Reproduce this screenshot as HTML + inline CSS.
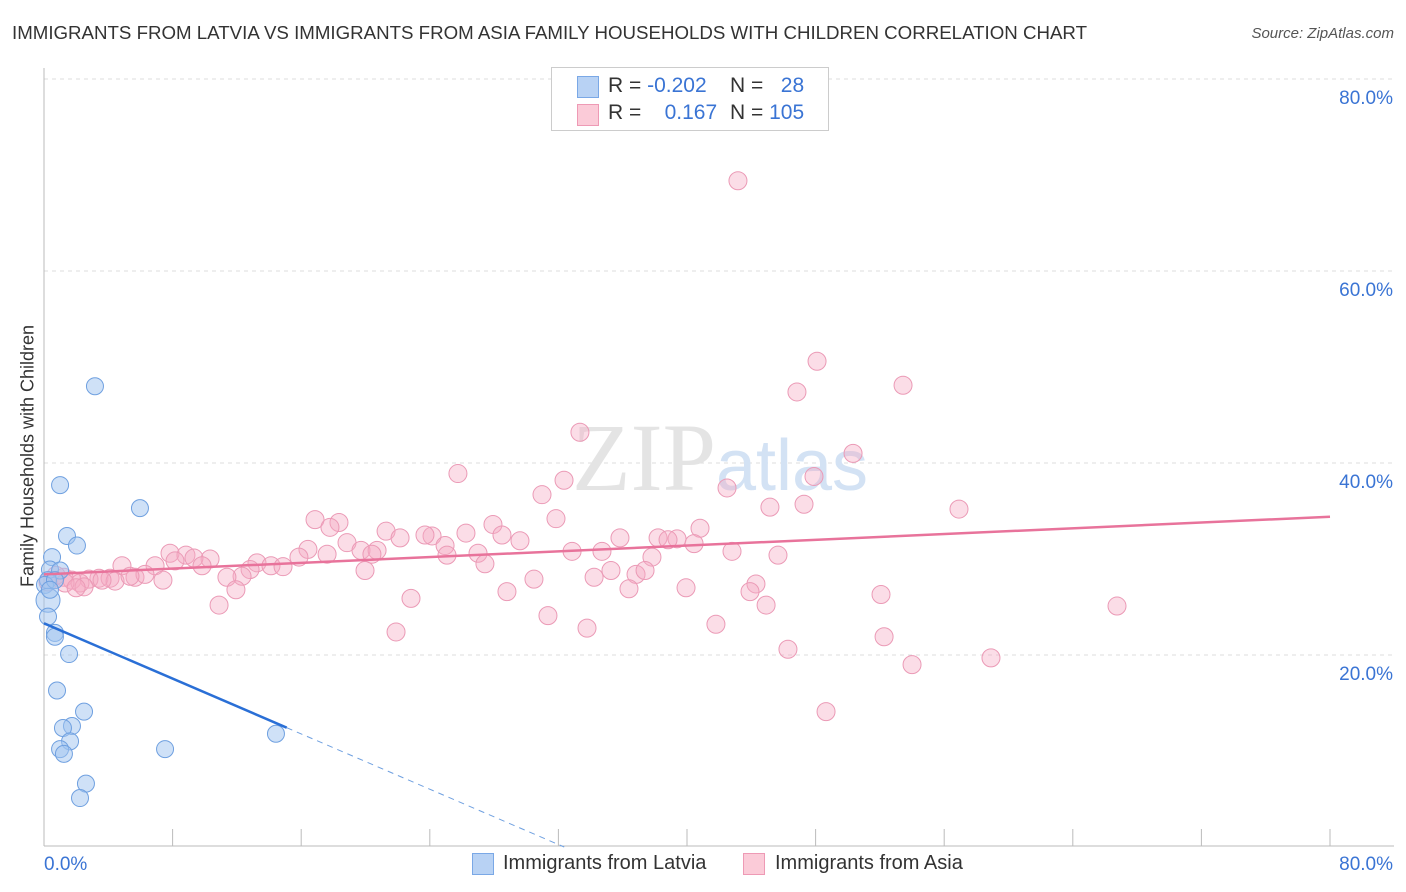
<!DOCTYPE html>
<html><head><meta charset="utf-8"><style>
body{margin:0;background:#fff;font-family:"Liberation Sans",sans-serif;}
#wrap{position:relative;width:1406px;height:892px;overflow:hidden;}
.t{position:absolute;white-space:nowrap;}
</style></head><body>
<div id="wrap">
<div class="t" style="left:12px;top:22px;font-size:18.7px;color:#333;">IMMIGRANTS FROM LATVIA VS IMMIGRANTS FROM ASIA FAMILY HOUSEHOLDS WITH CHILDREN CORRELATION CHART</div>
<div class="t" style="right:12px;top:25px;font-size:15px;color:#555;font-style:italic;">Source: ZipAtlas.com</div>
<div class="t" style="left:28px;top:456px;font-size:18px;color:#333;transform:translate(-50%,-50%) rotate(-90deg);">Family Households with Children</div>
<svg id="plot" width="1406" height="892" style="position:absolute;left:0;top:0"></svg>
<div style="position:absolute;left:551px;top:67px;width:276px;height:62px;border:1px solid #ccc;background:#fff;font-size:21px;">
 <div style="position:absolute;left:25px;top:8px;width:20px;height:20px;background:#b8d2f4;border:1px solid #7aa8e6;"></div>
 <div class="t" style="left:56px;top:6px;color:#333;">R = <span style="color:#3a74d4">-0.202</span></div>
 <div class="t" style="left:178px;top:6px;color:#333;">N = &nbsp;&nbsp;<span style="color:#3a74d4">28</span></div>
 <div style="position:absolute;left:25px;top:36px;width:20px;height:20px;background:#fbcbd8;border:1px solid #ee9ab5;"></div>
 <div class="t" style="left:56px;top:33px;color:#333;">R = &nbsp;&nbsp;&nbsp;<span style="color:#3a74d4">0.167</span></div>
 <div class="t" style="left:178px;top:33px;color:#333;">N = <span style="color:#3a74d4">105</span></div>
</div>
<div>
 <div style="position:absolute;left:472px;top:853px;width:20px;height:20px;background:#b8d2f4;border:1px solid #7aa8e6;"></div>
 <div class="t" style="left:503px;top:852px;font-size:20px;color:#333;">Immigrants from Latvia</div>
 <div style="position:absolute;left:743px;top:853px;width:20px;height:20px;background:#fbcbd8;border:1px solid #ee9ab5;"></div>
 <div class="t" style="left:775px;top:852px;font-size:20px;color:#333;">Immigrants from Asia</div>
</div>
</div>
<script>
const xTicks=[0,80];
const yTicks=[20,40,60,80];
const latviaX=[3.17,1.0,5.97,1.43,2.05,0.5,0.37,1.0,0.25,0.06,0.68,0.25,0.25,0.68,0.68,1.56,0.81,2.49,1.74,1.18,1.62,1.0,1.24,7.53,14.43,2.61,2.24,0.37];
const latviaY=[48.0,37.7,35.3,32.4,31.4,30.2,28.9,28.8,27.8,27.3,27.8,25.7,24.0,22.3,21.9,20.1,16.3,14.1,12.6,12.4,11.0,10.2,9.7,10.2,11.8,6.6,5.1,26.8];
const asiaX=[43.17,48.09,53.44,46.84,33.34,50.33,25.75,47.90,42.49,32.35,30.98,45.16,47.28,56.92,16.86,18.35,31.85,27.93,21.28,26.25,17.79,40.81,22.15,24.14,23.70,28.49,29.61,18.85,35.83,38.20,39.38,38.82,40.44,16.42,17.61,19.72,20.72,24.95,27.0,25.07,32.85,34.71,42.80,45.66,7.84,8.83,10.33,8.15,9.33,15.86,20.40,27.43,37.82,13.25,14.12,14.87,12.82,9.83,6.91,4.85,19.97,35.27,36.83,37.39,12.32,11.38,5.66,7.40,3.42,2.80,4.11,6.28,1.24,1.74,2.24,2.49,30.48,34.22,44.29,11.94,39.94,36.39,43.92,28.80,22.83,52.07,10.89,44.92,66.75,31.35,41.80,33.78,21.90,52.26,46.28,58.91,54.0,48.65,0.75,0.25,1.31,4.42,3.61,5.35,2.0];
const asiaY=[69.4,50.6,48.1,47.4,43.2,41.0,38.9,38.6,37.4,38.2,36.7,35.4,35.7,35.2,34.1,33.8,34.2,33.6,32.9,32.7,33.3,33.2,32.2,32.4,32.5,32.5,31.9,31.7,32.2,32.2,32.1,32.0,31.6,31.0,30.5,30.9,30.9,31.4,30.6,30.4,30.8,30.8,30.8,30.4,30.6,30.4,30.0,29.8,30.1,30.2,30.5,29.5,30.2,29.6,29.3,29.2,28.9,29.3,29.3,29.3,28.8,28.8,28.4,28.8,28.2,28.1,28.1,27.8,28.0,27.9,28.0,28.4,28.1,27.8,27.5,27.1,27.9,28.1,27.4,26.8,27.0,26.9,26.6,26.6,25.9,26.3,25.2,25.2,25.1,24.1,23.2,22.8,22.4,21.9,20.6,19.7,19.0,14.1,28.3,27.6,27.5,27.7,27.8,28.2,27.0];
const latviaTrend=[23.3,-0.72];
const asiaTrend=[28.4,0.075];
const X=v=>44+v/80*1286, Y=v=>847-v/20*192;
const NS='http://www.w3.org/2000/svg', svg=document.getElementById('plot');
function mk(t,a){const e=document.createElementNS(NS,t);for(const k in a)e.setAttribute(k,a[k]);svg.appendChild(e);return e;}
yTicks.forEach(v=>{
 const g=mk('line',{x1:44,x2:1394,y1:Y(v),y2:Y(v),stroke:'#ddd','stroke-dasharray':'4,4'});
 
 
 const t=mk('text',{x:1393,y:Y(v)+25,'text-anchor':'end','font-size':19,fill:'#3a74d4','font-family':'Liberation Sans'});
 t.textContent=v.toFixed(1)+'%';
 
 
});
mk('line',{x1:44,x2:44,y1:68,y2:846,stroke:'#bbb'});
mk('line',{x1:44,x2:1394,y1:846,y2:846,stroke:'#bbb'});
for(let i=0;i<=10;i++){const x=44+i*128.6;mk('line',{x1:x,x2:x,y1:829,y2:846,stroke:'#bbb'});}
xTicks.forEach((v,i)=>{
 const t=mk('text',{x:i?1393:44,y:870,'text-anchor':i?'end':'start','font-size':19,fill:'#3a74d4','font-family':'Liberation Sans'});
 t.textContent=v.toFixed(1)+'%';
 
 
});
const w=mk('text',{x:720,y:490,'text-anchor':'middle','font-size':96,'font-family':'Liberation Serif',fill:'#e4e4e4'});
w.innerHTML='ZIP<tspan font-family="Liberation Sans" font-size="72" fill="#d3e2f4">atlas</tspan>';


asiaX.forEach((v,i)=>{
 const c=mk('circle',{cx:X(v),cy:Y(asiaY[i]),r:9,fill:'rgba(246,170,196,0.4)',stroke:'#eb9ab6','stroke-width':1});
 
 
});
latviaX.forEach((v,i)=>{
 const c=mk('circle',{cx:X(v),cy:Y(latviaY[i]),r:i==11?12:8.5,fill:'rgba(160,196,240,0.5)',stroke:'#6fa0e0','stroke-width':1});
 
 
});
const a=mk('line',{x1:X(0),y1:Y(asiaTrend[0]),x2:X(80),y2:Y(asiaTrend[0]+80*asiaTrend[1]),stroke:'#e8739b','stroke-width':2.5});


const lx=15.1;
const b=mk('line',{x1:X(0),y1:Y(latviaTrend[0]),x2:X(lx),y2:Y(latviaTrend[0]+lx*latviaTrend[1]),stroke:'#2a6fd6','stroke-width':2.5});


const ex=-latviaTrend[0]/latviaTrend[1];
const d=mk('line',{x1:X(lx),y1:Y(latviaTrend[0]+lx*latviaTrend[1]),x2:X(ex),y2:Y(0),stroke:'#6fa0e0','stroke-width':1,'stroke-dasharray':'6,5'});


</script>
</body></html>
